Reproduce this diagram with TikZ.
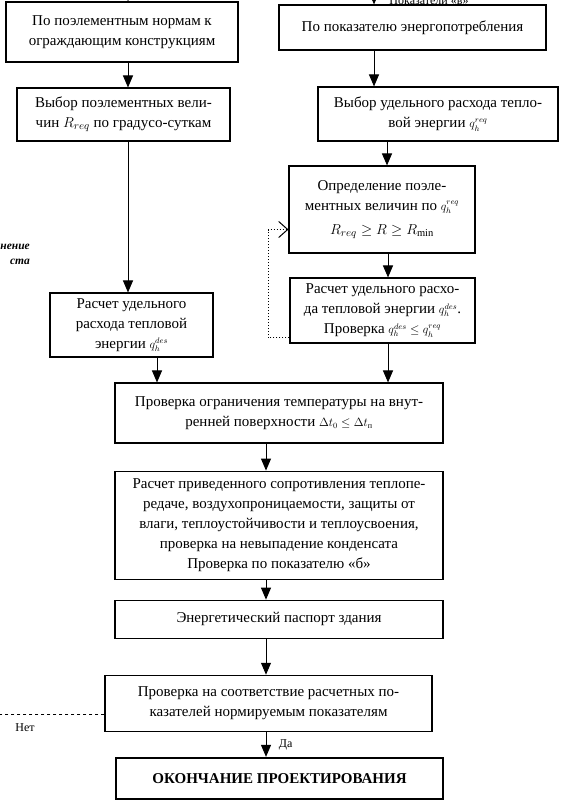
\documentclass[tikz,border=0pt]{standalone}
\usepackage{amsmath}
\usepackage{fontspec}
\setmainfont{Liberation Serif}
\usetikzlibrary{arrows.meta}
\usetikzlibrary{positioning}
\tikzset{>={Triangle[length=12pt,width=10pt]}}
\newcommand{\smallmath}[1]{{\fontsize{11.5}{12}\selectfont\(#1\)}}

\begin{document}
\begin{tikzpicture}[x=1pt, y=-1pt,
        box/.style={draw, line width=1.1pt, align=center, inner sep=2pt,
            font=\fontsize{15}{20}\selectfont},
        flow/.style={->, line width=1pt}]
        \useasboundingbox (0,0) rectangle (569,803);

        % left column
        \node [box, minimum width=232, minimum height=60] (Norms) at (122,32)
            {По поэлементным нормам к\\ограждающим конструкциям};
        \node [box, minimum width=213, minimum height=53] (NormChoice) at (123.5,114.5)
            {Выбор поэлементных вели-\\чин \(R_{req}\) по градусо-суткам};
        \node [box, minimum width=163, minimum height=64] (NormCalc) at (131.5,325)
            {Расчет удельного\\расхода тепловой\\энергии \smallmath{q_h^{des}}};

        % right column
        \node [box, minimum width=267, minimum height=45] (Energy) at (412.5,27.5)
            {По показателю энергопотребления};
        \node [box, minimum width=240, minimum height=54] (EnergyChoice) at (438,114)
            {Выбор удельного расхода тепло-\\вой энергии \smallmath{q_h^{req}}};
        \node [box, minimum width=186, minimum height=87] (EnergyDef) at (382,209.5)
            {Определение поэле-\\ментных величин по \smallmath{q_h^{req}}\\[4pt]\(R_{req}\geq R\geq R_{\min}\)};
        \node [box, minimum width=185, minimum height=65] (EnergyCalc) at (382.5,310.5)
            {Расчет удельного расхо-\\да тепловой энергии \smallmath{q_h^{des}}.\\Проверка \smallmath{q_h^{des}\leq q_h^{req}}};

        % common part
        \node [box, minimum width=328, minimum height=60] (TempCheck) at (279,413)
            {Проверка ограничения температуры на внут-\\ренней поверхности \smallmath{\Delta t_0\leq\Delta t_{\text{п}}}};
        \node [box, minimum width=328, minimum height=108, below=27pt of TempCheck] (Reduced)
            {Расчет приведенного сопротивления теплопе-\\редаче, воздухопроницаемости, защиты от\\влаги, теплоустойчивости и теплоусвоения,\\проверка на невыпадение конденсата\\Проверка по показателю «б»};
        \node [box, minimum width=328, minimum height=38, below=20pt of Reduced] (Passport)
            {Энергетический паспорт здания};
        \node [box, minimum width=327, minimum height=56, below=36pt of Passport, xshift=-10.5pt] (Compare)
            {Проверка на соответствие расчетных по-\\казателей нормируемым показателям};
        \node [box, line width=2pt, minimum width=327, minimum height=41, below=25pt of Compare, xshift=11pt,
            font=\fontsize{15}{20}\selectfont\bfseries] (End)
            {ОКОНЧАНИЕ ПРОЕКТИРОВАНИЯ};

        % texts cut by the frame
        \node [anchor=base, font=\fontsize{12}{14}\selectfont] (EnergyTitle) at (429,5) {Показатели «в»};
        \node [anchor=east, align=right, inner sep=1pt, font=\fontsize{11.5}{15}\selectfont\bfseries\itshape] (Change) at (31,254)
            {нение\\ста\hspace{4pt}};

        \coordinate (inNorms) at (128,-10);
        \coordinate (inEnergy) at (374,-10);
        \coordinate (loop) at (268,0);
        \coordinate (no) at (0,0);

        % arrows
        \draw [flow] (inNorms)--(inNorms |- Norms.north);
        \draw [flow] (inEnergy)--(inEnergy |- Energy.north);
        \draw [flow] ([xshift=6pt]Norms.south)--([xshift=6pt]Norms.south |- NormChoice.north);
        \draw [flow] ([xshift=4.5pt]NormChoice.south)--([xshift=4.5pt]NormChoice.south |- NormCalc.north);
        \draw [flow] ([xshift=25.5pt]NormCalc.south)--([xshift=25.5pt]NormCalc.south |- TempCheck.north);

        \draw [flow] ([xshift=-38.5pt]Energy.south)--([xshift=-38.5pt]Energy.south |- EnergyChoice.north);
        \draw [flow] ([xshift=5pt]EnergyDef.north |- EnergyChoice.south)--([xshift=5pt]EnergyDef.north);
        \draw [flow] ([xshift=6pt]EnergyDef.south)--([xshift=6pt]EnergyDef.south |- EnergyCalc.north);
        \draw [flow] ([xshift=5.5pt]EnergyCalc.south)--([xshift=5.5pt]EnergyCalc.south |- TempCheck.north);

        \draw [line width=1pt, dotted, -{Straight Barb[length=9pt,width=16pt,line width=1pt]}]
            ([yshift=6pt]EnergyCalc.south west)--([yshift=6pt]EnergyCalc.south west -| loop)
            |- ([yshift=-20pt]EnergyDef.west);

        \draw [flow] ([xshift=-13pt]TempCheck.south)--([xshift=-13pt]TempCheck.south |- Reduced.north);
        \draw [flow] ([xshift=-13pt]Reduced.south)--([xshift=-13pt]Reduced.south |- Passport.north);
        \draw [flow] ([xshift=-13pt]Passport.south)--([xshift=-13pt]Passport.south |- Compare.north);
        \draw [flow] ([xshift=-2.5pt]Compare.south)--([xshift=-2.5pt]Compare.south |- End.north)
            node [pos=0.5, right=9pt, font=\fontsize{12}{14}\selectfont] {Да};

        \draw [line width=1pt, dashed] ([yshift=-11pt]Compare.west)--([yshift=-11pt]Compare.west -| no)
            node [pos=0.76, below=6pt, font=\fontsize{12}{14}\selectfont] {Нет};
    \end{tikzpicture}
\end{document}
